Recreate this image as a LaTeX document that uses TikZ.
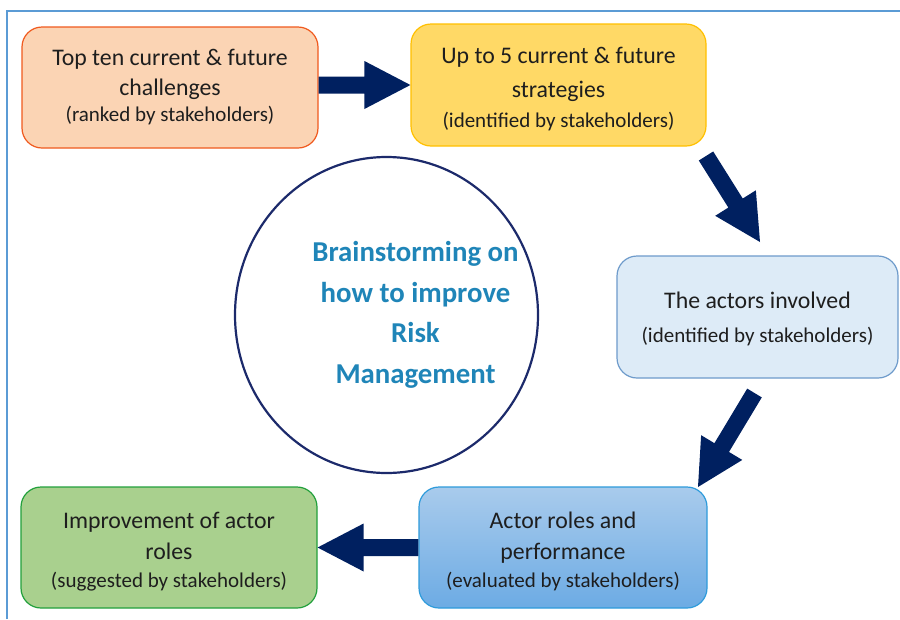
\documentclass[tikz,border=0pt]{standalone}
\usepackage{fontspec}
\setmainfont{Carlito}
\usetikzlibrary{calc,shapes.geometric}
\definecolor{framec}{HTML}{5B9BD5}
\definecolor{arrowc}{HTML}{002060}
\definecolor{txtc}{HTML}{1E1E1E}
\definecolor{ellc}{HTML}{1C2A6B}
\definecolor{elltxt}{HTML}{1F85B8}
\definecolor{oFill}{HTML}{FBD4B4}
\definecolor{oDraw}{HTML}{F05A1E}
\definecolor{yFill}{HTML}{FFD966}
\definecolor{yDraw}{HTML}{FFC000}
\definecolor{lbFill}{HTML}{DDEBF7}
\definecolor{lbDraw}{HTML}{6E9BCB}
\definecolor{bTop}{HTML}{A9CBEC}
\definecolor{bBot}{HTML}{6CABE4}
\definecolor{bDraw}{HTML}{2E9BDB}
\definecolor{gFill}{HTML}{A9D08E}
\definecolor{gDraw}{HTML}{22A03C}
\newcommand\blockarr[2]{%
  \coordinate (#1hb) at ($(#2)!46pt!(#1)$);
  \fill[arrowc] ($(#1)!8.5pt!90:(#2)$) -- ($(#1hb)!8.5pt!90:(#2)$)
    -- ($(#1hb)!24pt!90:(#2)$) -- (#2) -- ($(#1hb)!24pt!-90:(#2)$)
    -- ($(#1hb)!8.5pt!-90:(#2)$) -- ($(#1)!8.5pt!-90:(#2)$) -- cycle;}
\tikzset{
  box/.style={rounded corners=20pt, line width=1.2pt, align=center,
    text=txtc, inner sep=0pt, font=\fontsize{23.8}{30}\selectfont},
}
\newcommand\subtxt[1]{{\fontsize{21}{24}\selectfont #1}}
\begin{document}
\begin{tikzpicture}[x=1pt,y=-1pt]
\useasboundingbox (0,0) rectangle (900,619);
\fill[white] (0,0) rectangle (900,619);
\draw[framec, line width=1.2pt] (7,619) -- (7,11) -- (900,11);

\node[box, fill=oFill, draw=oDraw, minimum width=296, minimum height=121] (b1) at (170,87.5)
  {Top ten current \& future\\challenges\\[-4pt]\subtxt{(ranked by stakeholders)}};
\node[box, fill=yFill, draw=yDraw, minimum width=295, minimum height=122] (b2) at (558.5,85)
  {\rule{0pt}{24pt}Up to 5 current \& future\\[4pt]strategies\\\subtxt{(identified by stakeholders)}};
\node[box, fill=lbFill, draw=lbDraw, minimum width=281, minimum height=122] (b3) at (757.5,317)
  {\rule{0pt}{21pt}The actors involved\\[4pt]\subtxt{(identified by stakeholders)}};
\node[box, top color=bTop, bottom color=bBot, draw=bDraw, minimum width=288, minimum height=121] (b4) at (563,547.5)
  {\rule{0pt}{25pt}Actor roles and\\[1pt]performance\\[-2pt]\subtxt{(evaluated by stakeholders)}};
\node[box, fill=gFill, draw=gDraw, minimum width=296, minimum height=121] (b5) at (169,547.5)
  {\rule{0pt}{25pt}Improvement of actor\\[1pt]roles\\[-2pt]\subtxt{(suggested by stakeholders)}};

\node[ellipse, draw=ellc, line width=2.2pt, minimum width=303, minimum height=316, inner sep=0pt] (ell) at (386.5,315) {};
\node[align=center, text=elltxt, inner sep=0pt, font=\bfseries\fontsize{28.8}{40.5}\selectfont]
  (elltext) at ($(ell.center)+(29,0)$)
  {Brainstorming on\\how to improve\\Risk\\Management};

\coordinate (a1s) at (b1.east |- b2.west);
\blockarr{a1s}{b2.west}
\coordinate (a2s) at (706,156);
\coordinate (a2e) at (760,242);
\blockarr{a2s}{a2e}
\coordinate (a3s) at (754.5,393);
\coordinate (a3e) at (698,487);
\blockarr{a3s}{a3e}
\coordinate (a4s) at (b4.west);
\blockarr{a4s}{b5.east}
\end{tikzpicture}
\end{document}
